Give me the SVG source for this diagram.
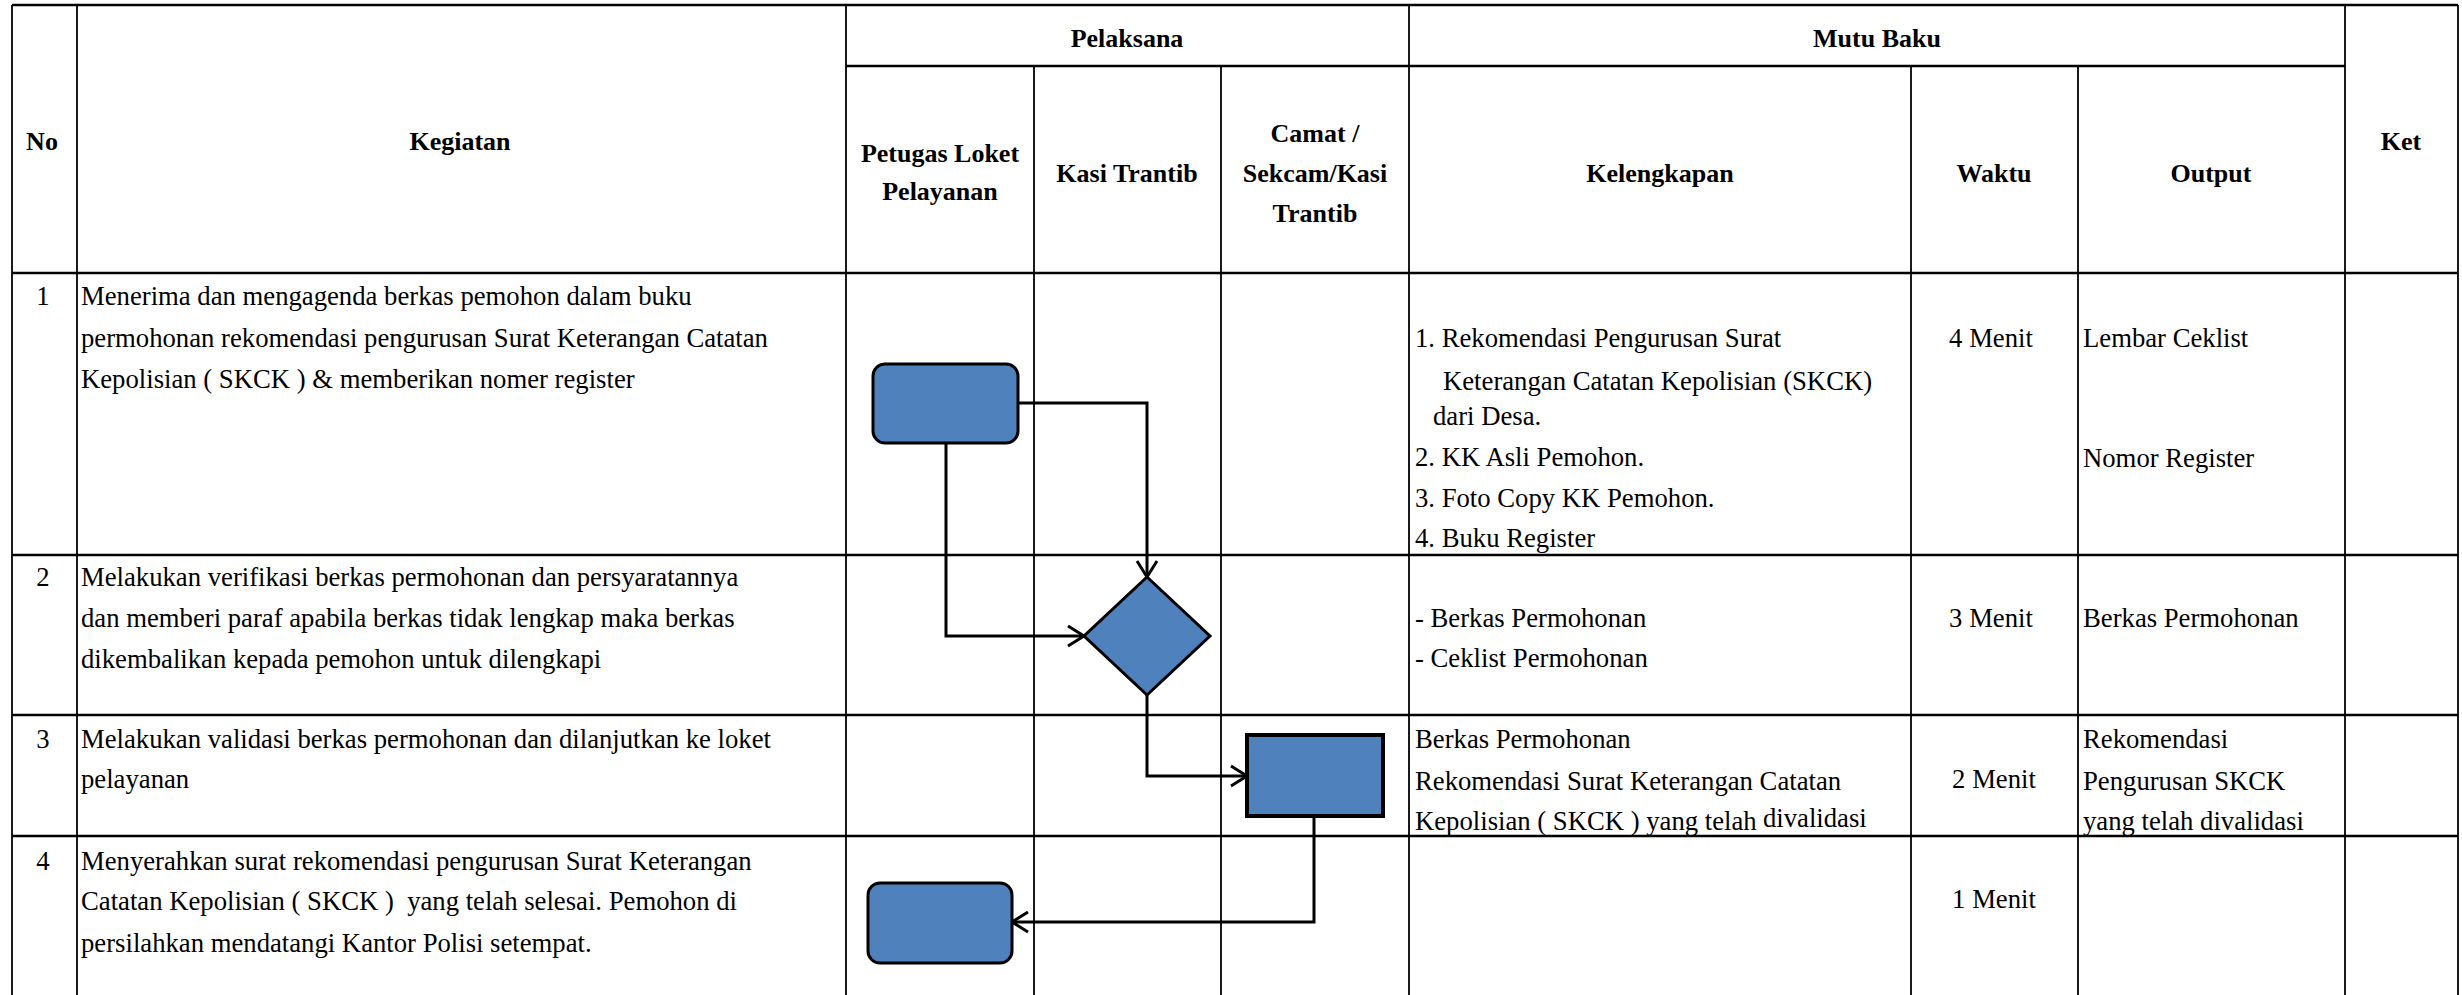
<svg xmlns="http://www.w3.org/2000/svg" width="2462" height="995" viewBox="0 0 2462 995">
<style>
.t{font-size:26.7px;fill:#000}
.b{font-size:26px;font-weight:bold;fill:#000}
.c{text-anchor:middle}
.v{stroke:#000;stroke-width:1.8;fill:none}
.h{stroke:#000;stroke-width:2.6;fill:none}
.node{fill:#4F81BD;stroke:#000;stroke-width:3}
.edge{fill:none;stroke:#000;stroke-width:3;stroke-linejoin:miter}
</style>
<defs>
<marker id="arr" markerUnits="userSpaceOnUse" markerWidth="30" markerHeight="30" viewBox="-20 -15 24 30" refX="0" refY="0" orient="auto">
<path d="M-16,-10 L0,0 L-16,10" fill="none" stroke="#000" stroke-width="3"/>
</marker>
</defs>
<rect width="2462" height="995" fill="#fff"/>
<g id="table">
<line class="h" x1="12" y1="5" x2="2458" y2="5"/>
<line class="v" x1="846" y1="66" x2="2345" y2="66" style="stroke-width:2.4"/>
<line class="h" x1="12" y1="273" x2="2458" y2="273"/>
<line class="h" x1="12" y1="555" x2="2458" y2="555"/>
<line class="h" x1="12" y1="715" x2="2458" y2="715"/>
<line class="h" x1="12" y1="836" x2="2458" y2="836"/>
<line class="v" x1="12" y1="5" x2="12" y2="995"/>
<line class="v" x1="77" y1="5" x2="77" y2="995"/>
<line class="v" x1="846" y1="5" x2="846" y2="995"/>
<line class="v" x1="1034" y1="66" x2="1034" y2="995"/>
<line class="v" x1="1221" y1="66" x2="1221" y2="995"/>
<line class="v" x1="1409" y1="5" x2="1409" y2="995"/>
<line class="v" x1="1911" y1="66" x2="1911" y2="995"/>
<line class="v" x1="2078" y1="66" x2="2078" y2="995"/>
<line class="v" x1="2345" y1="5" x2="2345" y2="995"/>
<line class="v" x1="2458" y1="5" x2="2458" y2="995"/>
</g>
<g font-family="'Liberation Serif', 'DejaVu Serif', serif">
<g id="header">
<text class="b c" x="42" y="150">No</text>
<text class="b c" x="460" y="150">Kegiatan</text>
<text class="b c" x="1127" y="47">Pelaksana</text>
<text class="b c" x="1877" y="47">Mutu Baku</text>
<text class="b c" x="2401" y="150">Ket</text>
<text class="b c" x="940" y="162">Petugas Loket</text>
<text class="b c" x="940" y="200">Pelayanan</text>
<text class="b c" x="1127" y="182">Kasi Trantib</text>
<text class="b c" x="1315" y="142">Camat /</text>
<text class="b c" x="1315" y="182">Sekcam/Kasi</text>
<text class="b c" x="1315" y="222">Trantib</text>
<text class="b c" x="1660" y="182">Kelengkapan</text>
<text class="b c" x="1994" y="182">Waktu</text>
<text class="b c" x="2211" y="182">Output</text>
</g>
<g id="row1">
<text class="t c" x="43" y="305">1</text>
<text class="t" x="81" y="305">Menerima dan mengagenda berkas pemohon dalam buku</text>
<text class="t" x="81" y="347">permohonan rekomendasi pengurusan Surat Keterangan Catatan</text>
<text class="t" x="81" y="388">Kepolisian ( SKCK ) &amp; memberikan nomer register</text>
<text class="t" x="1415" y="347">1. Rekomendasi Pengurusan Surat</text>
<text class="t" x="1443" y="390">Keterangan Catatan Kepolisian (SKCK)</text>
<text class="t" x="1433" y="425">dari Desa.</text>
<text class="t" x="1415" y="466">2. KK Asli Pemohon.</text>
<text class="t" x="1415" y="507">3. Foto Copy KK Pemohon.</text>
<text class="t" x="1415" y="547">4. Buku Register</text>
<text class="t c" x="1991" y="347">4 Menit</text>
<text class="t" x="2083" y="347">Lembar Ceklist</text>
<text class="t" x="2083" y="467">Nomor Register</text>
</g>
<g id="row2">
<text class="t c" x="43" y="586">2</text>
<text class="t" x="81" y="586">Melakukan verifikasi berkas permohonan dan persyaratannya</text>
<text class="t" x="81" y="627">dan memberi paraf apabila berkas tidak lengkap maka berkas</text>
<text class="t" x="81" y="668">dikembalikan kepada pemohon untuk dilengkapi</text>
<text class="t" x="1415" y="627">- Berkas Permohonan</text>
<text class="t" x="1415" y="667">- Ceklist Permohonan</text>
<text class="t c" x="1991" y="627">3 Menit</text>
<text class="t" x="2083" y="627">Berkas Permohonan</text>
</g>
<g id="row3">
<text class="t c" x="43" y="748">3</text>
<text class="t" x="81" y="748">Melakukan validasi berkas permohonan dan dilanjutkan ke loket</text>
<text class="t" x="81" y="788">pelayanan</text>
<text class="t" x="1415" y="748">Berkas Permohonan</text>
<text class="t" x="1415" y="790">Rekomendasi Surat Keterangan Catatan</text>
<text class="t" x="1415" y="830">Kepolisian ( SKCK ) yang telah</text>
<text class="t" x="1763" y="827">divalidasi</text>
<text class="t c" x="1994" y="788">2 Menit</text>
<text class="t" x="2083" y="748">Rekomendasi</text>
<text class="t" x="2083" y="790">Pengurusan SKCK</text>
<text class="t" x="2083" y="830">yang telah divalidasi</text>
</g>
<g id="row4">
<text class="t c" x="43" y="870">4</text>
<text class="t" x="81" y="870">Menyerahkan surat rekomendasi pengurusan Surat Keterangan</text>
<text class="t" x="81" y="910" xml:space="preserve">Catatan Kepolisian ( SKCK )  yang telah selesai. Pemohon di</text>
<text class="t" x="81" y="952">persilahkan mendatangi Kantor Polisi setempat.</text>
<text class="t c" x="1994" y="908">1 Menit</text>
</g>
</g>
<g id="connectors">
<polyline class="edge" points="1018,403 1147,403 1147,577" marker-end="url(#arr)"/>
<polyline class="edge" points="946,443 946,636 1084,636" marker-end="url(#arr)"/>
<polyline class="edge" points="1147,695 1147,776 1247,776" marker-end="url(#arr)"/>
<polyline class="edge" points="1314,816 1314,922 1012,922" marker-end="url(#arr)"/>
</g>
<g id="n1"><rect class="node" x="873" y="364" width="145" height="79" rx="12"/></g>
<g id="n2"><polygon class="node" points="1147,577 1210,636 1147,695 1084,636"/></g>
<g id="n3"><rect class="node" x="1247" y="735" width="136" height="81" style="stroke-width:4"/></g>
<g id="n4"><rect class="node" x="868" y="883" width="144" height="80" rx="12"/></g>
</svg>
